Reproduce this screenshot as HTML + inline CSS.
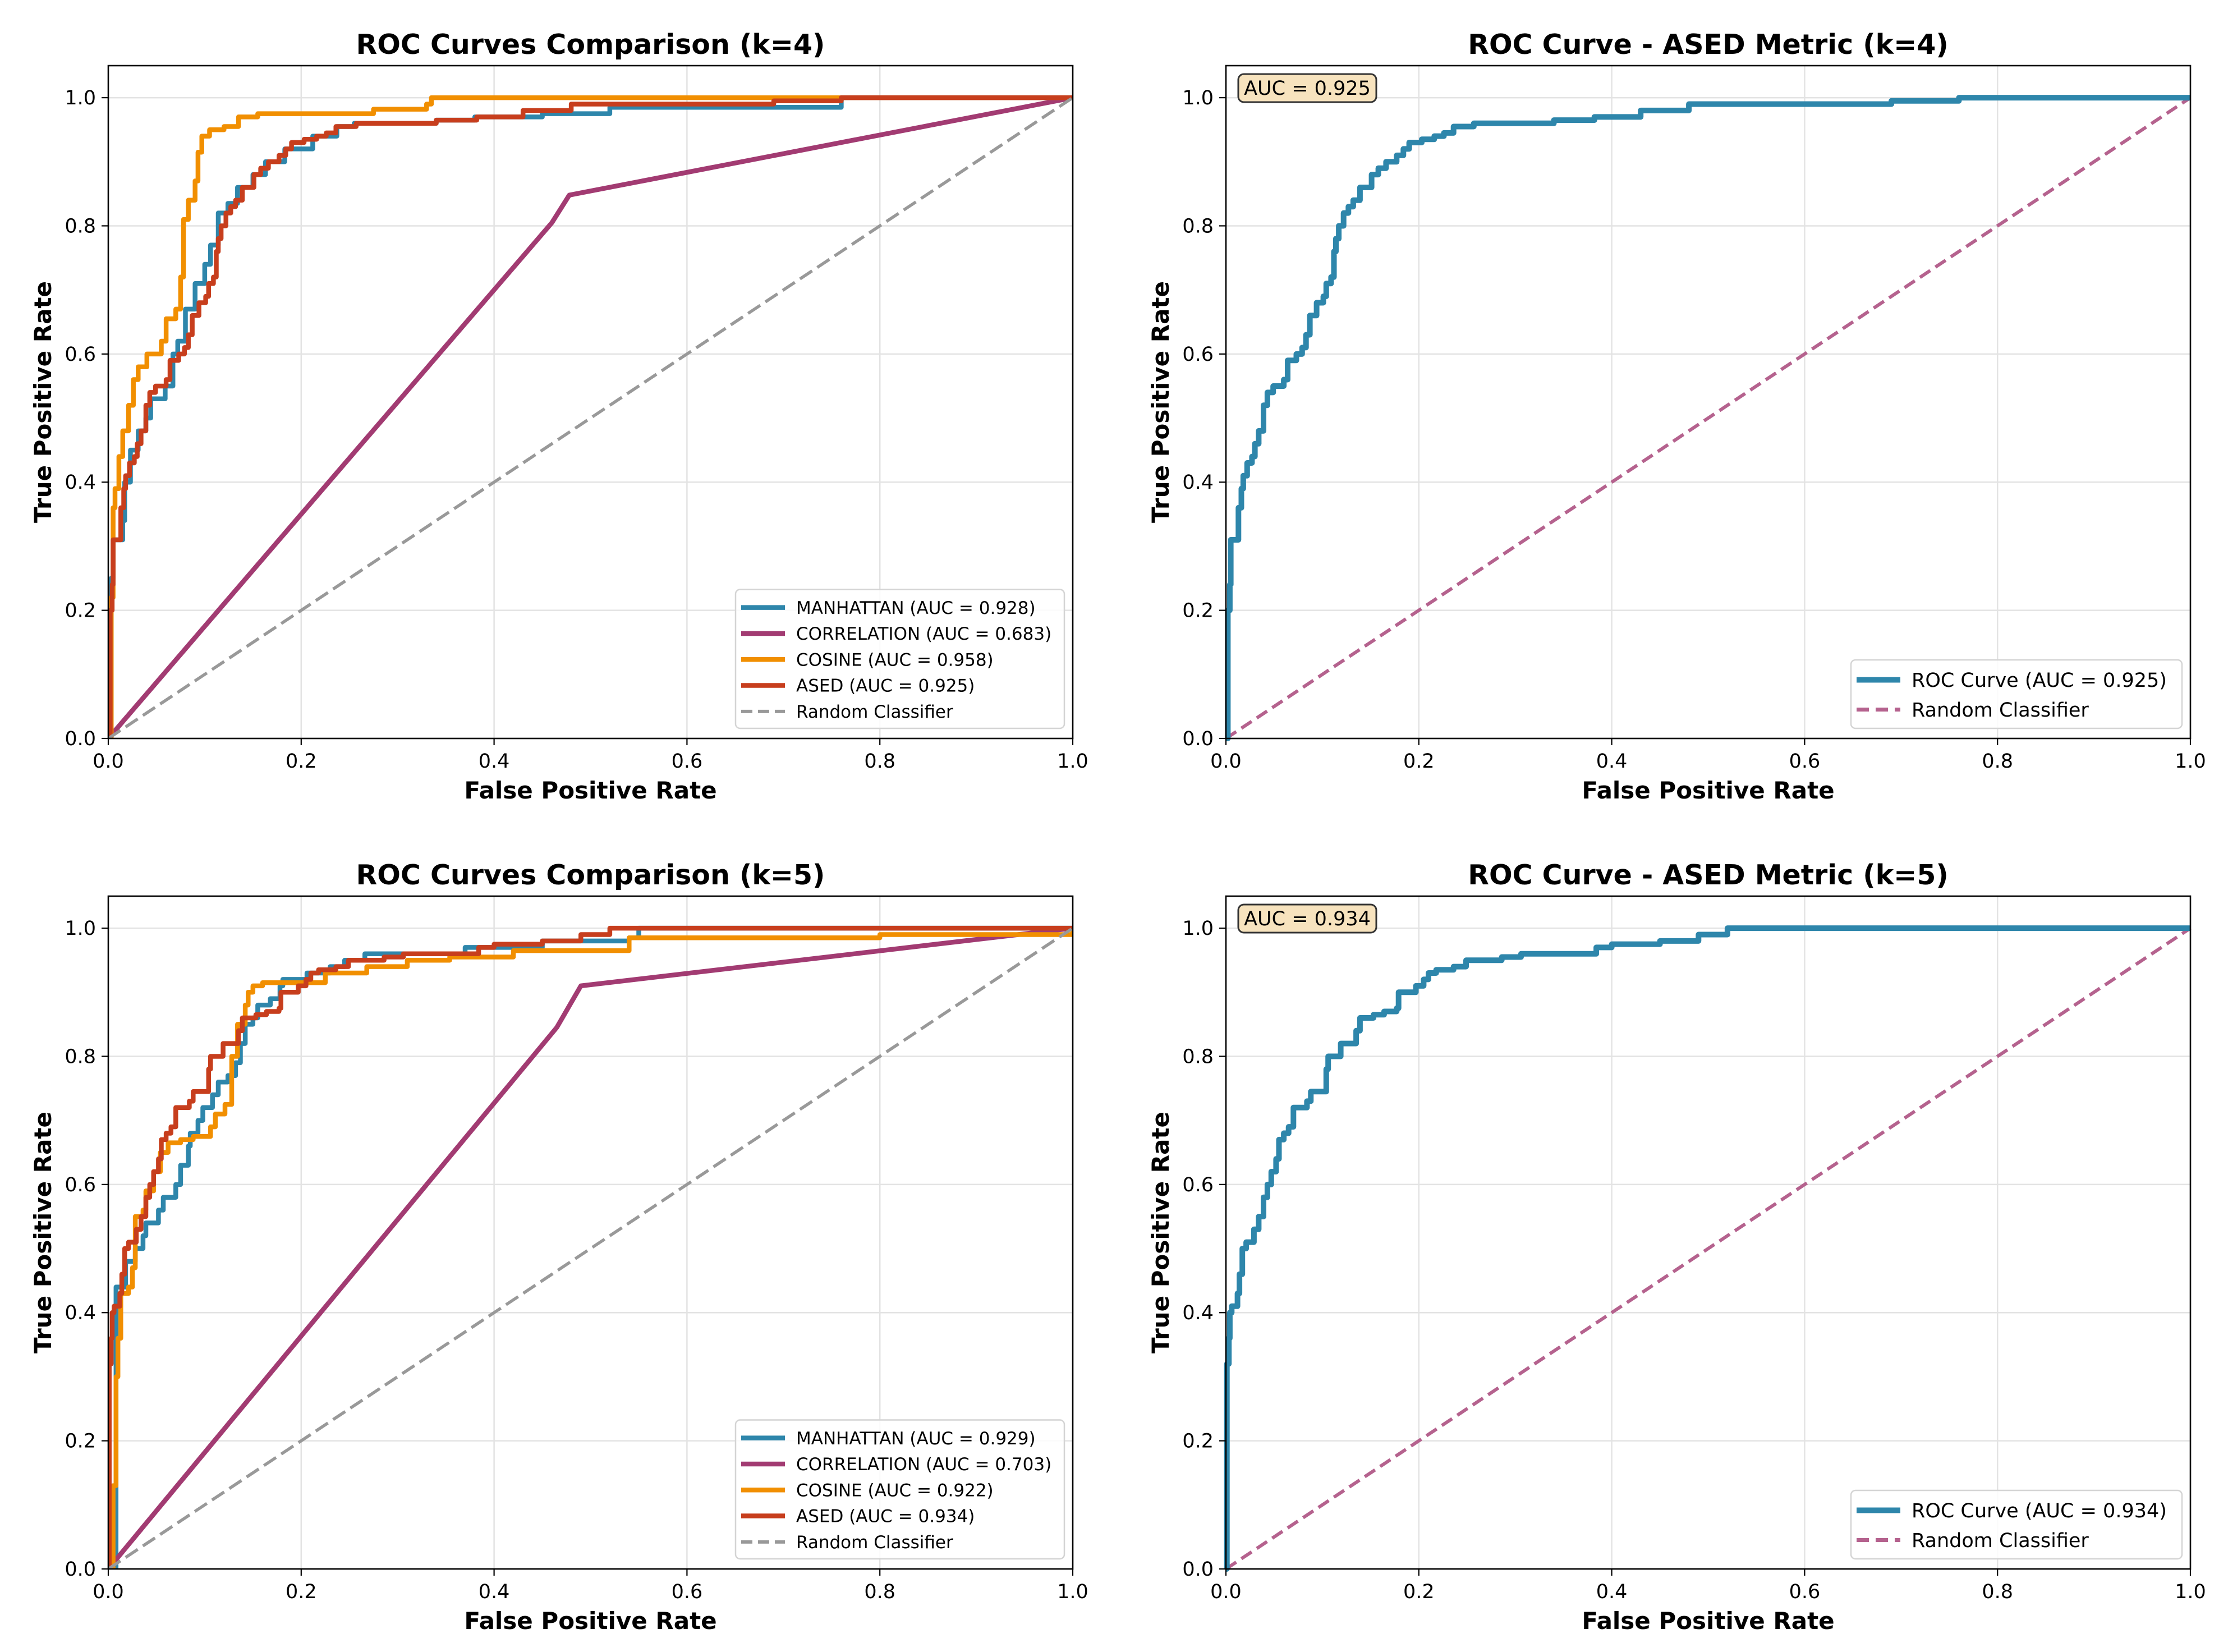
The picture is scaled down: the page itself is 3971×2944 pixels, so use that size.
<!DOCTYPE html>
<html><head><meta charset="utf-8"><style>
html,body{margin:0;padding:0;background:#fff;}
svg{display:block;font-family:"DejaVu Sans","Liberation Sans",sans-serif;}
</style></head><body>
<svg id="fig" width="3971" height="2944" viewBox="0 0 3971 2944" xmlns="http://www.w3.org/2000/svg"></svg>
<script>
// ===== data =====
const xTicks = [0.0, 0.2, 0.4, 0.6, 0.8, 1.0];
const yTicks = [0.0, 0.2, 0.4, 0.6, 0.8, 1.0];
const xTickLabels = ["0.0","0.2","0.4","0.6","0.8","1.0"];
const yTickLabels = ["0.0","0.2","0.4","0.6","0.8","1.0"];
const k4ManhattanFpr = [0,0.003,0.005,0.015,0.017,0.023,0.031,0.039,0.044,0.059,0.067,0.072,0.08,0.09,0.1,0.106,0.114,0.124,0.134,0.15,0.163,0.183,0.212,0.237,0.255,0.34,0.38,0.45,0.52,0.76,1];
const k4ManhattanTpr = [0,0.25,0.31,0.34,0.4,0.45,0.48,0.5,0.53,0.55,0.6,0.62,0.67,0.71,0.74,0.77,0.82,0.835,0.86,0.88,0.9,0.92,0.94,0.955,0.96,0.965,0.97,0.975,0.985,1,1];
const k4CorrelationFpr = [0,0.46,0.478,1];
const k4CorrelationTpr = [0,0.805,0.848,1];
const k4CosineFpr = [0,0.003,0.005,0.007,0.011,0.015,0.021,0.026,0.031,0.04,0.055,0.06,0.07,0.075,0.078,0.083,0.09,0.093,0.097,0.105,0.12,0.135,0.155,0.275,0.33,0.335,1];
const k4CosineTpr = [0,0.22,0.36,0.39,0.44,0.48,0.52,0.56,0.58,0.6,0.62,0.655,0.67,0.72,0.81,0.84,0.87,0.915,0.94,0.95,0.955,0.97,0.975,0.982,0.99,1,1];
const k4AsedFpr = [0,0.002,0.004,0.005,0.013,0.016,0.018,0.022,0.027,0.03,0.034,0.039,0.043,0.049,0.06,0.064,0.073,0.079,0.083,0.087,0.094,0.101,0.104,0.109,0.112,0.114,0.117,0.122,0.127,0.132,0.139,0.151,0.158,0.166,0.177,0.184,0.19,0.203,0.216,0.226,0.236,0.257,0.34,0.382,0.43,0.48,0.69,0.76,1];
const k4AsedTpr = [0,0.2,0.24,0.31,0.36,0.39,0.41,0.43,0.44,0.46,0.48,0.52,0.54,0.55,0.56,0.59,0.6,0.61,0.63,0.66,0.68,0.69,0.71,0.72,0.76,0.78,0.8,0.82,0.83,0.84,0.86,0.88,0.89,0.9,0.91,0.92,0.93,0.935,0.94,0.945,0.955,0.96,0.965,0.97,0.98,0.99,0.995,1,1];
const k5ManhattanFpr = [0,0.008,0.018,0.028,0.036,0.039,0.052,0.057,0.07,0.075,0.083,0.085,0.093,0.098,0.108,0.114,0.124,0.132,0.137,0.142,0.15,0.155,0.168,0.178,0.181,0.206,0.23,0.245,0.266,0.37,0.45,0.54,0.55,1];
const k5ManhattanTpr = [0,0.44,0.48,0.5,0.52,0.54,0.56,0.58,0.6,0.63,0.66,0.68,0.7,0.72,0.74,0.76,0.77,0.79,0.82,0.85,0.86,0.88,0.89,0.91,0.92,0.93,0.94,0.95,0.96,0.97,0.98,0.985,1,1];
const k5CorrelationFpr = [0,0.465,0.49,1];
const k5CorrelationTpr = [0,0.845,0.91,1];
const k5CosineFpr = [0,0.005,0.005,0.008,0.01,0.013,0.021,0.025,0.028,0.036,0.039,0.047,0.054,0.062,0.075,0.088,0.106,0.111,0.121,0.128,0.134,0.142,0.145,0.15,0.16,0.225,0.268,0.31,0.354,0.42,0.54,0.8,1];
const k5CosineTpr = [0,0.07,0.13,0.3,0.36,0.43,0.44,0.47,0.55,0.56,0.59,0.62,0.65,0.665,0.67,0.675,0.69,0.71,0.725,0.8,0.85,0.88,0.9,0.91,0.915,0.93,0.94,0.95,0.955,0.965,0.985,0.99,1];
const k5AsedFpr = [0,0.001,0.003,0.004,0.006,0.012,0.014,0.017,0.021,0.029,0.034,0.039,0.043,0.047,0.052,0.055,0.06,0.065,0.07,0.084,0.088,0.104,0.106,0.119,0.135,0.139,0.153,0.164,0.177,0.179,0.197,0.205,0.21,0.218,0.236,0.249,0.286,0.306,0.384,0.4,0.45,0.49,0.52,1];
const k5AsedTpr = [0,0.32,0.36,0.4,0.41,0.43,0.46,0.5,0.51,0.53,0.55,0.58,0.6,0.62,0.64,0.67,0.68,0.69,0.72,0.73,0.745,0.78,0.8,0.82,0.84,0.86,0.865,0.87,0.875,0.9,0.91,0.92,0.93,0.935,0.94,0.95,0.955,0.96,0.97,0.975,0.98,0.99,1,1];
const randomX = [0, 1];
const randomY = [0, 1];
const aucK4 = ["0.928","0.683","0.958","0.925"];
const aucK5 = ["0.929","0.703","0.922","0.934"];
const metricNames = ["MANHATTAN","CORRELATION","COSINE","ASED"];

// ===== drawing =====
const NS = "http://www.w3.org/2000/svg";
const svg = document.getElementById("fig");
const COLORS = ["#2E86AB","#A23B72","#F18F01","#C73E1D"];
function el(tag, attrs, parent, text) {
  const e = document.createElementNS(NS, tag);
  for (const k in attrs) e.setAttribute(k, attrs[k]);
  if (text !== undefined) e.textContent = text;
  (parent || svg).appendChild(e);
  return e;
}
function makeAxes(x0, x1, top, bottom) {
  const ky = (bottom - top) / 1.05;
  return {x0, x1, top, bottom,
    sx: v => x0 + v * (x1 - x0),
    sy: v => bottom - v * ky};
}
function stepPath(ax, xs, ys) {
  let d = "M" + ax.sx(xs[0]).toFixed(1) + "," + ax.sy(ys[0]).toFixed(1);
  for (let i = 1; i < xs.length; i++) {
    d += " L" + ax.sx(xs[i]).toFixed(1) + "," + ax.sy(ys[i-1]).toFixed(1);
    d += " L" + ax.sx(xs[i]).toFixed(1) + "," + ax.sy(ys[i]).toFixed(1);
  }
  return d;
}
function linePath(ax, xs, ys) {
  return xs.map((x, i) => (i ? "L" : "M") + ax.sx(x).toFixed(1) + "," + ax.sy(ys[i]).toFixed(1)).join(" ");
}
function drawFrame(ax, title, g) {
  xTicks.forEach(t => {
    const gl = el("line", {x1: ax.sx(t), x2: ax.sx(t), y1: ax.top, y2: ax.bottom, stroke: "#e3e3e3", "stroke-width": 2.5}, g);
    
    
  });
  yTicks.forEach(t => {
    const gl = el("line", {x1: ax.x0, x2: ax.x1, y1: ax.sy(t), y2: ax.sy(t), stroke: "#e3e3e3", "stroke-width": 2.5}, g);
    
    
  });
}
function drawAxesDecor(ax, title, g) {
  const fr = el("rect", {x: ax.x0, y: ax.top, width: ax.x1 - ax.x0, height: ax.bottom - ax.top, fill: "none", stroke: "#000", "stroke-width": 2.6}, g);
  
  
  xTicks.forEach((t, i) => {
    const tk = el("line", {x1: ax.sx(t), x2: ax.sx(t), y1: ax.bottom, y2: ax.bottom + 12, stroke: "#000", "stroke-width": 2.2}, g);
    
    
    const tl = el("text", {x: ax.sx(t), y: ax.bottom + 52, "font-size": 35, "text-anchor": "middle", fill: "#000"}, g, xTickLabels[i]);
    
    
  });
  yTicks.forEach((t, i) => {
    const tk = el("line", {x1: ax.x0 - 12, x2: ax.x0, y1: ax.sy(t), y2: ax.sy(t), stroke: "#000", "stroke-width": 2.2}, g);
    
    
    const tl = el("text", {x: ax.x0 - 22, y: ax.sy(t) + 12, "font-size": 35, "text-anchor": "end", fill: "#000"}, g, yTickLabels[i]);
    
    
  });
  const xl = el("text", {x: (ax.x0 + ax.x1) / 2, y: ax.bottom + 107, "font-size": 42, "font-weight": "bold", "text-anchor": "middle"}, g, "False Positive Rate");
  
  
  const cy = (ax.top + ax.bottom) / 2, cx = ax.x0 - 117;
  const yl = el("text", {x: cx, y: cy + 15, "font-size": 42, "font-weight": "bold", "text-anchor": "middle", transform: "rotate(-90 " + cx + " " + cy + ")"}, g, "True Positive Rate");
  
  
  const ti = el("text", {x: (ax.x0 + ax.x1) / 2, y: ax.top - 21, "font-size": 49, "font-weight": "bold", "text-anchor": "middle"}, g, title);
  
  
}
function legend(ax, entries, fontSize, rowH, width, g) {
  const h = rowH * entries.length + 16;
  const bx = ax.x1 - 15 - width, by = ax.bottom - 18 - h;
  const lg = el("g", {}, g);
  
  
  el("rect", {x: bx, y: by, width: width, height: h, rx: 8, fill: "#fff", "fill-opacity": 0.85, stroke: "#d4d4d4", "stroke-width": 2.5}, lg);
  entries.forEach((en, i) => {
    const cy = by + 8 + rowH * (i + 0.5) + 1;
    const row = el("g", {}, lg);
    
    
    const attrs = {x1: bx + 10, x2: bx + 88, y1: cy, y2: cy, stroke: en.color, "stroke-width": en.w};
    if (en.dash) attrs["stroke-dasharray"] = en.dash;
    el("line", attrs, row);
    el("text", {x: bx + 108, y: cy + fontSize * 0.36, "font-size": fontSize}, row, en.label);
  });
}
function comparisonPanel(ax, title, data, aucs, key) {
  const g = el("g", {});
  
  
  drawFrame(ax, title, g);
  const clip = el("clipPath", {id: "clip" + key}, g);
  el("rect", {x: ax.x0, y: ax.top, width: ax.x1 - ax.x0, height: ax.bottom - ax.top}, clip);
  const cg = el("g", {"clip-path": "url(#clip" + key + ")"}, g);
  data.forEach((s, i) => {
    const p = el("path", {d: i === 1 ? linePath(ax, s[0], s[1]) : stepPath(ax, s[0], s[1]), fill: "none", stroke: COLORS[i], "stroke-width": 8.5, "stroke-linejoin": "round", "stroke-linecap": "butt"}, cg);
    
    
  });
  const r = el("path", {d: linePath(ax, randomX, randomY), fill: "none", stroke: "#999", "stroke-width": 5.5, "stroke-dasharray": "26 11"}, cg);
  
  
  drawAxesDecor(ax, title, g);
  const entries = metricNames.map((n, i) => ({color: COLORS[i], w: 8.5, label: n + " (AUC = " + aucs[i] + ")"}));
  entries.push({color: "#999", w: 6, dash: "20 10", label: "Random Classifier"});
  legend(ax, entries, 31, 46.3, 586, g);
}
function asedPanel(ax, title, fx, fy, auc, key) {
  const g = el("g", {});
  
  
  drawFrame(ax, title, g);
  const r = el("path", {d: linePath(ax, randomX, randomY), fill: "none", stroke: "#B5628E", "stroke-width": 6, "stroke-dasharray": "22 11"}, g);
  
  
  const p = el("path", {d: stepPath(ax, fx, fy), fill: "none", stroke: "#2E86AB", "stroke-width": 10, "stroke-linejoin": "round"}, g);
  
  
  drawAxesDecor(ax, title, g);
  const box = el("g", {}, g);
  
  
  el("rect", {x: ax.x0 + 22, y: ax.top + 15, width: 246, height: 50, rx: 10, fill: "#F7E3BE", stroke: "#333", "stroke-width": 3}, box);
  el("text", {x: ax.x0 + 145, y: ax.top + 52, "font-size": 35, "text-anchor": "middle"}, box, "AUC = " + auc);
  legend(ax, [
    {color: "#2E86AB", w: 10, label: "ROC Curve (AUC = " + auc + ")"},
    {color: "#B5628E", w: 7, dash: "22 12", label: "Random Classifier"}
  ], 35, 53, 590, g);
}
const axTL = makeAxes(193, 1912, 117, 1316);
const axTR = makeAxes(2185, 3904, 117, 1316);
const axBL = makeAxes(193, 1912, 1597, 2796);
const axBR = makeAxes(2185, 3904, 1597, 2796);
comparisonPanel(axTL, "ROC Curves Comparison (k=4)",
  [[k4ManhattanFpr, k4ManhattanTpr],[k4CorrelationFpr, k4CorrelationTpr],[k4CosineFpr, k4CosineTpr],[k4AsedFpr, k4AsedTpr]], aucK4, "k4");
asedPanel(axTR, "ROC Curve - ASED Metric (k=4)", k4AsedFpr, k4AsedTpr, aucK4[3], "k4");
comparisonPanel(axBL, "ROC Curves Comparison (k=5)",
  [[k5ManhattanFpr, k5ManhattanTpr],[k5CorrelationFpr, k5CorrelationTpr],[k5CosineFpr, k5CosineTpr],[k5AsedFpr, k5AsedTpr]], aucK5, "k5");
asedPanel(axBR, "ROC Curve - ASED Metric (k=5)", k5AsedFpr, k5AsedTpr, aucK5[3], "k5");
</script>
</body></html>
